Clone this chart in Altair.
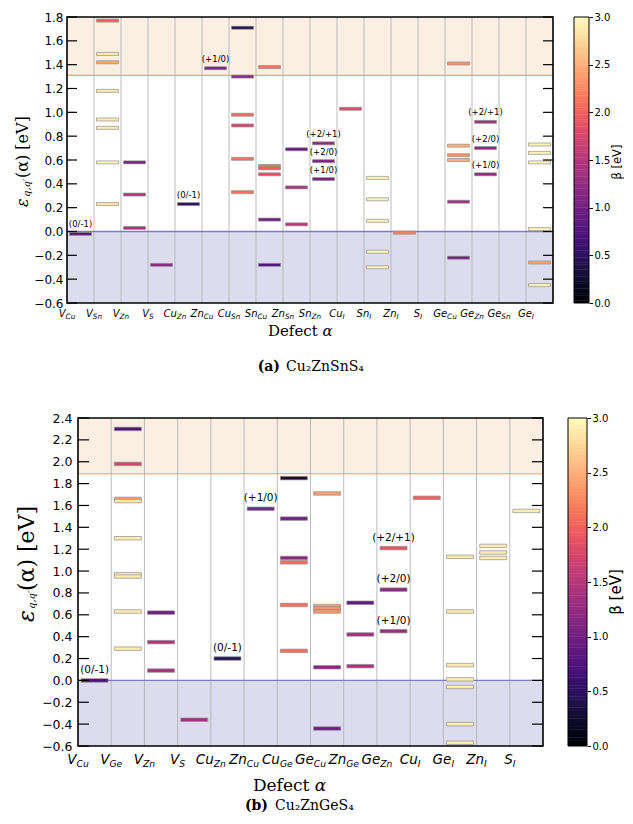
import altair as alt
import pandas as pd
import numpy as np

# ---------------- (a) Cu2ZnSnS4 ----------------
czts_defects = ["V_Cu", "V_Sn", "V_Zn", "V_S", "Cu_Zn", "Zn_Cu", "Cu_Sn", "Sn_Cu", "Zn_Sn",
                "Sn_Zn", "Cu_I", "Sn_I", "Zn_I", "S_I", "Ge_Cu", "Ge_Zn", "Ge_Sn", "Ge_I"]
czts_level_defect = (["V_Cu"] + ["V_Sn"] * 8 + ["V_Zn"] * 3 + ["V_S"] + ["Cu_Zn"] + ["Zn_Cu"]
                     + ["Cu_Sn"] * 6 + ["Sn_Cu"] * 6 + ["Zn_Sn"] * 3 + ["Sn_Zn"] * 3 + ["Cu_I"]
                     + ["Sn_I"] * 5 + ["Zn_I"] + ["Ge_Cu"] * 6 + ["Ge_Zn"] * 3 + ["Ge_I"] * 6)
czts_level_energy = [-0.02,
                     1.77, 1.49, 1.42, 1.18, 0.94, 0.87, 0.58, 0.23,
                     0.58, 0.31, 0.03,
                     -0.28,
                     0.23,
                     1.37,
                     1.71, 1.30, 0.98, 0.89, 0.61, 0.33,
                     1.38, 0.55, 0.53, 0.48, 0.10, -0.28,
                     0.69, 0.37, 0.06,
                     0.74, 0.59, 0.44,
                     1.03,
                     0.45, 0.27, 0.09, -0.17, -0.30,
                     -0.01,
                     1.41, 0.72, 0.64, 0.60, 0.25, -0.22,
                     0.92, 0.70, 0.48,
                     0.73, 0.66, 0.58, 0.02, -0.26, -0.45]
czts_level_beta = [0.8,
                   2.0, 2.9, 2.45, 2.9, 2.9, 2.9, 2.95, 2.85,
                   1.0, 1.45, 1.4,
                   1.2,
                   0.5,
                   1.05,
                   0.4, 1.15, 2.05, 1.75, 2.1, 2.1,
                   2.1, 2.1, 1.95, 1.85, 0.95, 0.75,
                   0.85, 1.4, 1.5,
                   1.2, 1.05, 1.05,
                   1.8,
                   2.95, 2.95, 2.95, 2.95, 2.95,
                   2.2,
                   2.3, 2.5, 2.3, 2.5, 1.35, 1.0,
                   1.35, 1.2, 1.2,
                   2.95, 2.95, 2.95, 2.95, 2.45, 2.95]
czts_note_defect = ["V_Cu", "Cu_Zn", "Zn_Cu", "Sn_Zn", "Sn_Zn", "Sn_Zn", "Ge_Zn", "Ge_Zn", "Ge_Zn"]
czts_note_energy = [-0.02, 0.23, 1.37, 0.74, 0.59, 0.44, 0.92, 0.70, 0.48]
czts_note_text = ["(0/-1)", "(0/-1)", "(+1/0)", "(+2/+1)", "(+2/0)", "(+1/0)", "(+2/+1)", "(+2/0)", "(+1/0)"]
czts_vbm, czts_cbm = 0.0, 1.31
czts_ylim = [-0.6, 1.8]
czts_yticks = [-0.6, -0.4, -0.2, 0.0, 0.2, 0.4, 0.6, 0.8, 1.0, 1.2, 1.4, 1.6, 1.8]

# ---------------- (b) Cu2ZnGeS4 ----------------
czgs_defects = ["V_Cu", "V_Ge", "V_Zn", "V_S", "Cu_Zn", "Zn_Cu", "Cu_Ge", "Ge_Cu", "Zn_Ge",
                "Ge_Zn", "Cu_I", "Ge_I", "Zn_I", "S_I"]
czgs_level_defect = (["V_Cu"] + ["V_Ge"] * 9 + ["V_Zn"] * 3 + ["V_S"] + ["Cu_Zn"] + ["Zn_Cu"]
                     + ["Cu_Ge"] * 6 + ["Ge_Cu"] * 6 + ["Zn_Ge"] * 3 + ["Ge_Zn"] * 3 + ["Cu_I"]
                     + ["Ge_I"] * 7 + ["Zn_I"] * 3 + ["S_I"])
czgs_level_energy = [0.00,
                     2.30, 1.98, 1.66, 1.64, 1.30, 0.97, 0.95, 0.63, 0.29,
                     0.62, 0.35, 0.09,
                     -0.36,
                     0.20,
                     1.57,
                     1.85, 1.48, 1.12, 1.08, 0.69, 0.27,
                     1.71, 0.68, 0.66, 0.63, 0.12, -0.44,
                     0.71, 0.42, 0.13,
                     1.21, 0.83, 0.45,
                     1.67,
                     1.13, 0.63, 0.14, 0.01, -0.06, -0.40, -0.57,
                     1.23, 1.17, 1.12,
                     1.55]
czgs_level_beta = [0.7,
                   0.75, 1.75, 2.4, 2.85, 2.9, 2.9, 2.9, 2.9, 2.9,
                   0.95, 1.45, 1.4,
                   1.35,
                   0.45,
                   1.1,
                   0.3, 1.0, 1.15, 2.1, 2.1, 2.1,
                   2.4, 2.4, 2.3, 2.35, 1.15, 0.95,
                   0.9, 1.35, 1.4,
                   1.9, 1.2, 1.3,
                   2.0,
                   2.9, 2.9, 2.9, 2.9, 2.9, 2.9, 2.9,
                   2.9, 2.9, 2.9,
                   2.9]
czgs_note_defect = ["V_Cu", "Cu_Zn", "Zn_Cu", "Ge_Zn", "Ge_Zn", "Ge_Zn"]
czgs_note_energy = [0.00, 0.20, 1.57, 1.21, 0.83, 0.45]
czgs_note_text = ["(0/-1)", "(0/-1)", "(+1/0)", "(+2/+1)", "(+2/0)", "(+1/0)"]
czgs_vbm, czgs_cbm = 0.0, 1.89
czgs_ylim = [-0.6, 2.4]
czgs_yticks = [-0.6, -0.4, -0.2, 0.0, 0.2, 0.4, 0.6, 0.8, 1.0, 1.2, 1.4, 1.6, 1.8, 2.0, 2.2, 2.4]

beta_ticks = [0.0, 0.5, 1.0, 1.5, 2.0, 2.5, 3.0]

# approximate glyph widths (em) of DejaVu Sans oblique, for centering main+subscript labels
GLYPH = {"V": 0.684, "C": 0.698, "u": 0.634, "Z": 0.685, "n": 0.634, "S": 0.635,
         "G": 0.775, "e": 0.615, "I": 0.295}


def text_w(s, fs):
    return sum(GLYPH.get(c, 0.6) for c in s) * fs


def panel(defects, ld, le, lb, nd, ne, nt, vbm, cbm, ylim, yticks, tag, formula, s):
    W, H = s["W"], s["H"]
    xsc = alt.Scale(domain=defects, paddingInner=0, paddingOuter=0)
    ysc = alt.Scale(domain=ylim, nice=False, zero=False)
    yax = alt.Axis(values=yticks, format=".1f", domain=False, ticks=False, tickSize=0, grid=False,
                   title=None, labelFontSize=s["ylab_fs"], labelFont="DejaVu Sans",
                   labelColor="black", labelPadding=s["ylab_pad"])
    cscale = alt.Scale(scheme="magma", domain=[0, 3])
    one = pd.DataFrame({"k": [0]})

    def X(**kw):
        return alt.X("defect:N", scale=xsc, axis=None, **kw)

    def Y(f):
        return alt.Y(f, scale=ysc, axis=yax)

    vb = alt.Chart(pd.DataFrame({"lo": [ylim[0]], "hi": [vbm]})).mark_rect(
        color="#dcdcee").encode(y=Y("lo:Q"), y2="hi:Q")
    cb = alt.Chart(pd.DataFrame({"lo": [cbm], "hi": [ylim[1]]})).mark_rect(
        color="#fbeee2").encode(y=Y("lo:Q"), y2="hi:Q")
    seps = alt.Chart(pd.DataFrame({"defect": defects[1:]})).mark_rule(
        color="#b3b3b3", strokeWidth=0.9).encode(x=X(bandPosition=0))
    vline = alt.Chart(pd.DataFrame({"v": [vbm]})).mark_rule(
        color="#7c7cbf", strokeWidth=1.3).encode(y=Y("v:Q"))
    cline = alt.Chart(pd.DataFrame({"v": [cbm]})).mark_rule(
        color="#f5a35e", strokeWidth=1.2).encode(y=Y("v:Q"))
    bars = alt.Chart(pd.DataFrame({"defect": ld, "energy": le, "beta": lb})).mark_tick(
        thickness=s["bar_t"], size=s["bar_w"], stroke="#8f8f8f", strokeWidth=0.7, opacity=1
    ).encode(x=X(), y=Y("energy:Q"), color=alt.Color("beta:Q", scale=cscale, legend=None))
    notes = alt.Chart(pd.DataFrame({"defect": nd, "energy": ne, "text": nt})).mark_text(
        font="DejaVu Sans", fontSize=s["note_fs"], dy=-s["note_dy"], baseline="middle",
        color="black").encode(x=X(), y=Y("energy:Q"), text="text:N")
    tdf = pd.DataFrame({"t": yticks})
    lt = alt.Chart(tdf).mark_rule(color="black", strokeWidth=1.2).encode(
        y=Y("t:Q"), x=alt.value(0), x2=alt.value(s["tick_len"]))
    rt = alt.Chart(tdf).mark_rule(color="black", strokeWidth=1.2).encode(
        y=Y("t:Q"), x=alt.value(W - s["tick_len"]), x2=alt.value(W))
    frame = alt.Chart(one).mark_rect(filled=False, color="black", strokeWidth=1.6).encode(
        x=alt.value(0), x2=alt.value(W), y=alt.value(0), y2=alt.value(H))

    mains = [d.split("_")[0] for d in defects]
    subs = [d.split("_")[1] for d in defects]
    lab = pd.DataFrame({"defect": defects, "main": mains, "sub": subs,
                        "off": [(text_w(m, s["xl_fs"]) - text_w(b, s["xs_fs"])) / 2
                                for m, b in zip(mains, subs)]})
    xl_main = alt.Chart(lab).mark_text(font="DejaVu Sans", fontStyle="italic", fontSize=s["xl_fs"],
                                       align="right", baseline="alphabetic", color="black").encode(
        x=X(), xOffset=alt.XOffset("off:Q", scale=None), y=alt.value(H + s["xl_dy"]), text="main:N")
    xl_sub = alt.Chart(lab).mark_text(font="DejaVu Sans", fontStyle="italic", fontSize=s["xs_fs"],
                                      align="left", baseline="alphabetic", color="black").encode(
        x=X(), xOffset=alt.XOffset("off:Q", scale=None), y=alt.value(H + s["xs_dy"]), text="sub:N")

    def txt(text, x, y, **kw):
        return alt.Chart(one).mark_text(text=text, color="black", **kw).encode(
            x=alt.value(x), y=alt.value(y))

    ytitle = [
        txt("ε", s["yt_x"], s["eps_y"], angle=270, align="left", baseline="middle",
            font="DejaVu Serif", fontStyle="italic", fontSize=s["yt_fs"]),
        txt("q,q′", s["yt_x"] + s["sub_dx"], s["sub_y"], angle=270, align="left", baseline="middle",
            font="DejaVu Serif", fontStyle="italic", fontSize=s["ysub_fs"]),
        txt("(α) [eV]", s["yt_x"], s["rest_y"], angle=270, align="left", baseline="middle",
            font="DejaVu Serif", fontSize=s["yt_fs"]),
    ]
    xtitle = [
        txt("Defect", s["dl_right"], s["dl_y"], align="right", baseline="alphabetic",
            font="DejaVu Serif", fontSize=s["dl_fs"]),
        txt("α", s["dl_alpha"], s["dl_y"], align="left", baseline="alphabetic",
            font="DejaVu Serif", fontStyle="italic", fontSize=s["dl_fs"]),
    ]
    caption = [
        txt(tag, s["cap_x"], s["cap_y"], align="right", baseline="alphabetic",
            font="DejaVu Serif", fontWeight="bold", fontSize=s["cap_fs"]),
        txt(formula, s["cap_x"] + s["cap_gap"], s["cap_y"], align="left", baseline="alphabetic",
            font="DejaVu Serif", fontSize=s["cap_fs"]),
    ]
    beta_title = txt("β [eV]", s["beta_x"], s["beta_y"], angle=270, align="center",
                     baseline="middle", font="DejaVu Sans", fontSize=s["beta_fs"])
    anchor = alt.Chart(one).mark_rule(strokeOpacity=0, color="white").encode(
        x=alt.value(s["anchor_x"]), y=alt.value(s["anchor_top"]), y2=alt.value(s["anchor_bot"]))

    main = alt.layer(vb, cb, seps, vline, cline, bars, notes, lt, rt, frame, xl_main, xl_sub,
                     *ytitle, *xtitle, *caption, beta_title, anchor)

    # colour bar
    nstep = 120
    b0 = np.linspace(0, 3, nstep + 1)[:-1]
    step = 3 / nstep
    cb_df = pd.DataFrame({"b0": b0, "b1": np.minimum(b0 + step * 1.15, 3), "bm": b0 + step / 2})
    csc = alt.Scale(domain=[0, 3], nice=False, zero=False)
    cax = alt.Axis(orient="right", offset=s["cb_x1"] - W, values=beta_ticks, format=".1f",
                   tickSize=3.5, tickColor="black", tickWidth=1, domain=False, grid=False,
                   title=None, labelFontSize=s["cb_lab_fs"], labelFont="DejaVu Sans",
                   labelColor="black", labelPadding=1.5)
    cbr = alt.Chart(cb_df).mark_rect().encode(
        x=alt.value(s["cb_x0"]), x2=alt.value(s["cb_x1"]),
        y=alt.Y("b0:Q", scale=csc, axis=cax), y2="b1:Q",
        color=alt.Color("bm:Q", scale=cscale, legend=None))
    cbo = alt.Chart(one).mark_rect(filled=False, color="black", strokeWidth=1).encode(
        x=alt.value(s["cb_x0"]), x2=alt.value(s["cb_x1"]), y=alt.value(0), y2=alt.value(H))
    cbar = alt.layer(cbr, cbo)

    return alt.layer(main, cbar).resolve_scale(y="independent").properties(width=W, height=H)


top_style = dict(W=486, H=286, bar_t=3, bar_w=22, ylab_fs=12, ylab_pad=4, tick_len=10,
                 note_fs=8.5, note_dy=9.5, xl_fs=10, xs_fs=7.3, xl_dy=13.5, xs_dy=16,
                 yt_x=-44, yt_fs=16, eps_y=190, sub_y=180, sub_dx=4, rest_y=161, ysub_fs=10,
                 dl_fs=15, dl_right=250.7, dl_alpha=255.5, dl_y=319,
                 cap_fs=14, cap_x=213, cap_gap=6, cap_y=354,
                 cb_x0=507, cb_x1=522, cb_lab_fs=10,
                 beta_x=551, beta_y=145, beta_fs=11.5,
                 anchor_x=-59, anchor_top=-9, anchor_bot=366)
bot_style = dict(W=465, H=328, bar_t=3.5, bar_w=27, ylab_fs=12.5, ylab_pad=6, tick_len=11,
                 note_fs=10.5, note_dy=10.5, xl_fs=13.5, xs_fs=9.2, xl_dy=17.5, xs_dy=21,
                 yt_x=-51, yt_fs=22, eps_y=204, sub_y=191, sub_dx=5, rest_y=173, ysub_fs=10,
                 dl_fs=17, dl_right=231.3, dl_alpha=236.7, dl_y=373,
                 cap_fs=14, cap_x=190, cap_gap=7, cap_y=392,
                 cb_x0=490, cb_x1=509, cb_lab_fs=10,
                 beta_x=538, beta_y=174, beta_fs=15,
                 anchor_x=-70, anchor_top=-10, anchor_bot=393)

top = panel(czts_defects, czts_level_defect, czts_level_energy, czts_level_beta,
            czts_note_defect, czts_note_energy, czts_note_text, czts_vbm, czts_cbm,
            czts_ylim, czts_yticks, "(a)", "Cu₂ZnSnS₄", top_style)
bottom = panel(czgs_defects, czgs_level_defect, czgs_level_energy, czgs_level_beta,
               czgs_note_defect, czgs_note_energy, czgs_note_text, czgs_vbm, czgs_cbm,
               czgs_ylim, czgs_yticks, "(b)", "Cu₂ZnGeS₄", bot_style)

# invisible spacer: the lower panel's plot area sits 11 px further right than the upper one
spacer = alt.Chart(pd.DataFrame({"k": [0]})).mark_point(opacity=0).encode(
    x=alt.value(0), y=alt.value(0)).properties(width=11, height=10)
bottom_row = alt.hconcat(spacer, bottom, spacing=0, bounds="flush")

chart = alt.vconcat(top, bottom_row, spacing=25).properties(
    padding={"left": 0, "top": 0, "right": 0, "bottom": 0}, background="white"
).configure_view(strokeWidth=0)

chart.save("out.html", embed_options={"renderer": "svg", "actions": False})
